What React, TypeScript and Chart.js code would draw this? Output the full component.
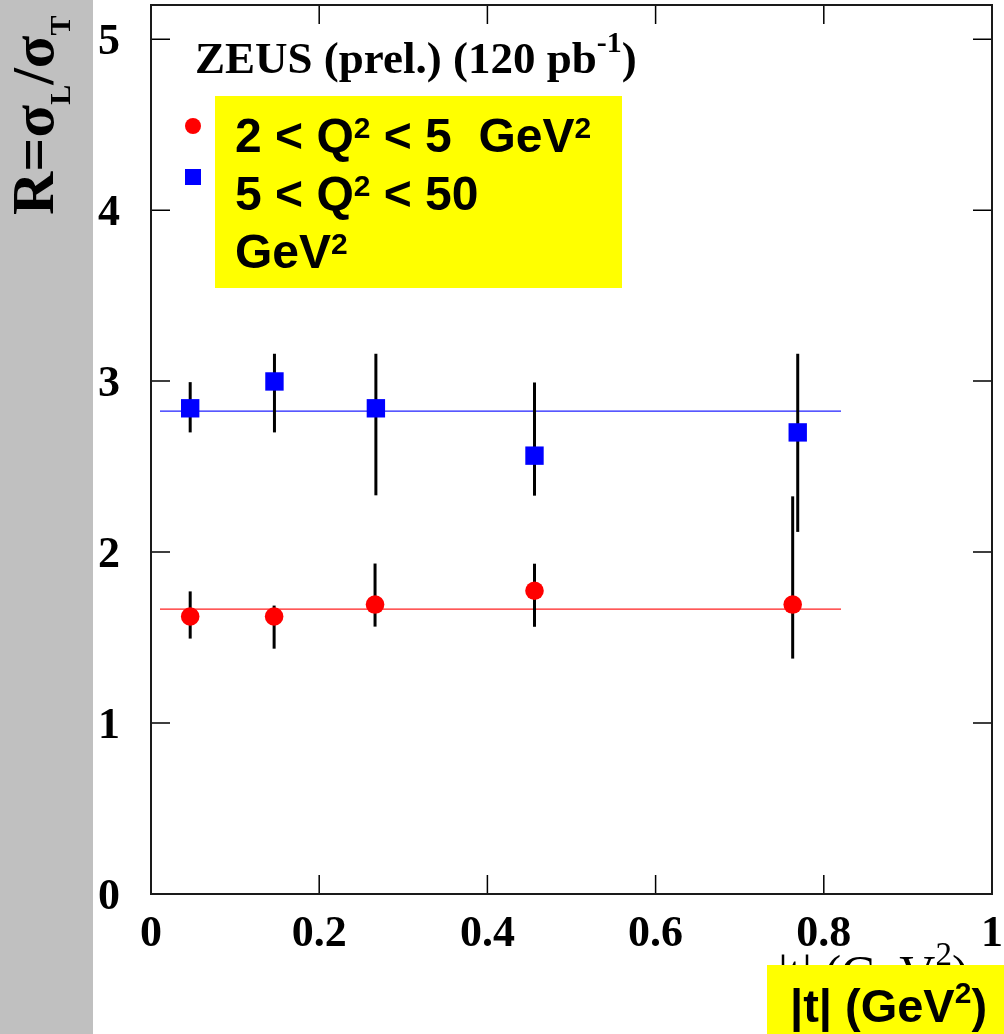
import React, { useEffect, useRef } from "react";
import { Chart, registerables } from "chart.js";
Chart.register(...registerables);

// |t| values and R = sigma_L / sigma_T for the two Q^2 ranges
const tLow = [0.0466, 0.1464, 0.2664, 0.456, 0.763];
const rLow = [1.623, 1.623, 1.693, 1.774, 1.693];
const rLowErrPlus = [0.147, 0.064, 0.24, 0.158, 0.633];
const rLowErrMinus = [0.129, 0.188, 0.129, 0.211, 0.316];

const tHigh = [0.0466, 0.1468, 0.2674, 0.456, 0.769];
const rHigh = [2.841, 2.998, 2.841, 2.564, 2.7];
const rHighErrPlus = [0.153, 0.162, 0.319, 0.428, 0.46];
const rHighErrMinus = [0.141, 0.298, 0.509, 0.234, 0.582];

// constant fits
const fitRange = [0.0107, 0.8205];
const fitLow = 1.666;
const fitHigh = 2.825;

const xTicks = [0, 0.2, 0.4, 0.6, 0.8, 1];
const xTickLabels = ["0", "0.2", "0.4", "0.6", "0.8", "1"];
const yTicks = [0, 1, 2, 3, 4, 5];
const yTickLabels = ["0", "1", "2", "3", "4", "5"];

const SERIF = '"Liberation Serif", "Times New Roman", serif';
const SANS = '"Liberation Sans", Arial, sans-serif';

type Run = { text: string; font: string; dy: number };

function drawRuns(ctx: CanvasRenderingContext2D, x: number, y: number, runs: Run[]) {
  let cx = x;
  for (const r of runs) {
    ctx.font = r.font;
    ctx.fillText(r.text, cx, y + r.dy);
    cx += ctx.measureText(r.text).width;
  }
  return cx;
}

const errorBarPlugin = {
  id: "errorBars",
  beforeDatasetDraw(chart: any, args: any) {
    if (args.index !== 1) return;
    const { ctx } = chart;
    const xs = chart.scales.x;
    const ys = chart.scales.y;
    ctx.save();
    ctx.strokeStyle = "#000";
    ctx.lineWidth = 3;
    const draw = (t: number[], r: number[], p: number[], m: number[]) => {
      t.forEach((tv, i) => {
        const px = xs.getPixelForValue(tv);
        ctx.beginPath();
        ctx.moveTo(px, ys.getPixelForValue(r[i] + p[i]));
        ctx.lineTo(px, ys.getPixelForValue(r[i] - m[i]));
        ctx.stroke();
      });
    };
    draw(tLow, rLow, rLowErrPlus, rLowErrMinus);
    draw(tHigh, rHigh, rHighErrPlus, rHighErrMinus);
    ctx.restore();
  },
};

const decorPlugin = {
  id: "decor",
  beforeDraw(chart: any) {
    const { ctx, height } = chart;
    ctx.save();
    ctx.fillStyle = "#ffffff";
    ctx.fillRect(0, 0, chart.width, height);
    ctx.fillStyle = "#c0c0c0";
    ctx.fillRect(0, 0, 93, height);
    ctx.restore();
  },
  afterDraw(chart: any) {
    const { ctx, chartArea } = chart;
    const { left, right, top, bottom } = chartArea;
    const xs = chart.scales.x;
    const ys = chart.scales.y;
    ctx.save();
    // ticks inward on all four sides
    ctx.strokeStyle = "#000";
    ctx.lineWidth = 1.5;
    const tl = 19;
    xTicks.forEach((v) => {
      const px = xs.getPixelForValue(v);
      ctx.beginPath();
      ctx.moveTo(px, bottom);
      ctx.lineTo(px, bottom - tl);
      ctx.moveTo(px, top);
      ctx.lineTo(px, top + tl);
      ctx.stroke();
    });
    yTicks.forEach((v) => {
      const py = ys.getPixelForValue(v);
      ctx.beginPath();
      ctx.moveTo(left, py);
      ctx.lineTo(left + tl, py);
      ctx.moveTo(right, py);
      ctx.lineTo(right - tl, py);
      ctx.stroke();
    });
    // frame
    ctx.strokeStyle = "#1a1a1a";
    ctx.lineWidth = 2;
    ctx.strokeRect(left, top, right - left, bottom - top);

    // tick labels
    ctx.fillStyle = "#000";
    ctx.font = `bold 44px ${SERIF}`;
    ctx.textBaseline = "alphabetic";
    ctx.textAlign = "right";
    yTicks.forEach((v, i) => {
      ctx.fillText(yTickLabels[i], left - 31, ys.getPixelForValue(v) + 15);
    });
    ctx.textAlign = "center";
    xTicks.forEach((v, i) => {
      ctx.fillText(xTickLabels[i], xs.getPixelForValue(v), bottom + 52);
    });

    ctx.textAlign = "left";

    // y axis title (rotated)
    ctx.save();
    ctx.translate(53, 215);
    ctx.rotate(-Math.PI / 2);
    drawRuns(ctx, 0, 0, [
      { text: "R=σ", font: `bold 60px ${SERIF}`, dy: 0 },
      { text: "L", font: `bold 30px ${SERIF}`, dy: 17 },
      { text: "/σ", font: `bold 60px ${SERIF}`, dy: 0 },
      { text: "T", font: `bold 30px ${SERIF}`, dy: 17 },
    ]);
    ctx.restore();

    // ZEUS label
    drawRuns(ctx, 195, 73, [
      { text: "ZEUS (prel.) (120 pb", font: `bold 45px ${SERIF}`, dy: 0 },
      { text: "-1", font: `bold 30px ${SERIF}`, dy: -21 },
      { text: ")", font: `bold 45px ${SERIF}`, dy: 0 },
    ]);

    // legend box
    ctx.fillStyle = "#ffff00";
    ctx.fillRect(215, 96, 407, 192);
    ctx.fillStyle = "#000";
    const big = `bold 48px ${SANS}`;
    const sup = `bold 30px ${SANS}`;
    drawRuns(ctx, 235, 152, [
      { text: "2 < Q", font: big, dy: 0 },
      { text: "2", font: sup, dy: -14 },
      { text: " < 5  GeV", font: big, dy: 0 },
      { text: "2", font: sup, dy: -14 },
    ]);
    drawRuns(ctx, 235, 210, [
      { text: "5 < Q", font: big, dy: 0 },
      { text: "2", font: sup, dy: -14 },
      { text: " < 50", font: big, dy: 0 },
    ]);
    drawRuns(ctx, 235, 268, [
      { text: "GeV", font: big, dy: 0 },
      { text: "2", font: sup, dy: -14 },
    ]);
    // legend markers
    ctx.fillStyle = "#ff0000";
    ctx.beginPath();
    ctx.arc(193, 126, 8, 0, Math.PI * 2);
    ctx.fill();
    ctx.fillStyle = "#0000ff";
    ctx.fillRect(185, 169, 16, 16);

    // original x-axis title (mostly covered)
    ctx.fillStyle = "#000";
    drawRuns(ctx, 778, 990, [
      { text: "|t| (GeV", font: `50px ${SERIF}`, dy: 0 },
      { text: "2", font: `33px ${SERIF}`, dy: -25 },
      { text: ")", font: `50px ${SERIF}`, dy: 0 },
    ]);

    // yellow x-axis title box
    ctx.fillStyle = "#ffff00";
    ctx.fillRect(767, 965, 237, 69);
    ctx.fillStyle = "#000";
    drawRuns(ctx, 790, 1022, [
      { text: "|t| (GeV", font: `bold 47px ${SANS}`, dy: 0 },
      { text: "2", font: `bold 30px ${SANS}`, dy: -19 },
      { text: ")", font: `bold 47px ${SANS}`, dy: 0 },
    ]);
    ctx.restore();
  },
};

export default function App() {
  const ref = useRef<HTMLCanvasElement | null>(null);
  useEffect(() => {
    document.body.style.margin = "0";
    const canvas = ref.current;
    if (!canvas) return;
    const chart = new Chart(canvas, {
      type: "scatter",
      data: {
        datasets: [
          {
            label: "2 < Q2 < 5 GeV2",
            data: tLow.map((t, i) => ({ x: t, y: rLow[i] })),
            pointStyle: "circle",
            pointRadius: 9.3,
            backgroundColor: "#ff0000",
            borderColor: "#ff0000",
            borderWidth: 0,
          },
          {
            label: "5 < Q2 < 50 GeV2",
            data: tHigh.map((t, i) => ({ x: t, y: rHigh[i] })),
            pointStyle: "rect",
            pointRadius: 13,
            backgroundColor: "#0000ff",
            borderColor: "#0000ff",
            borderWidth: 0,
          },
          {
            label: "fit low",
            data: fitRange.map((x) => ({ x, y: fitLow })),
            showLine: true,
            borderColor: "#ff2020",
            borderWidth: 1.2,
            pointRadius: 0,
          },
          {
            label: "fit high",
            data: fitRange.map((x) => ({ x, y: fitHigh })),
            showLine: true,
            borderColor: "#2020ff",
            borderWidth: 1.2,
            pointRadius: 0,
          },
        ],
      },
      options: {
        animation: false,
        responsive: false,
        devicePixelRatio: 1,
        layout: { autoPadding: false, padding: { left: 0, right: 12, top: 5, bottom: 0 } },
        plugins: { legend: { display: false }, tooltip: { enabled: false } },
        scales: {
          x: {
            type: "linear",
            min: 0,
            max: 1,
            grid: { display: false, drawTicks: false },
            border: { display: false },
            ticks: { display: false },
            afterBuildTicks: (s: any) => {
              s.ticks = xTicks.map((v) => ({ value: v }));
            },
            afterFit: (s: any) => {
              s.height = 140;
              s.paddingLeft = 0;
              s.paddingRight = 0;
            },
          },
          y: {
            type: "linear",
            min: 0,
            max: 5.2,
            grid: { display: false, drawTicks: false },
            border: { display: false },
            ticks: { display: false },
            afterBuildTicks: (s: any) => {
              s.ticks = yTicks.map((v) => ({ value: v }));
            },
            afterFit: (s: any) => {
              s.width = 151;
              s.paddingTop = 0;
              s.paddingBottom = 0;
            },
          },
        },
      },
      plugins: [errorBarPlugin, decorPlugin],
    });
    return () => chart.destroy();
  }, []);
  return <canvas ref={ref} width={1004} height={1034} style={{ display: "block" }} />;
}
